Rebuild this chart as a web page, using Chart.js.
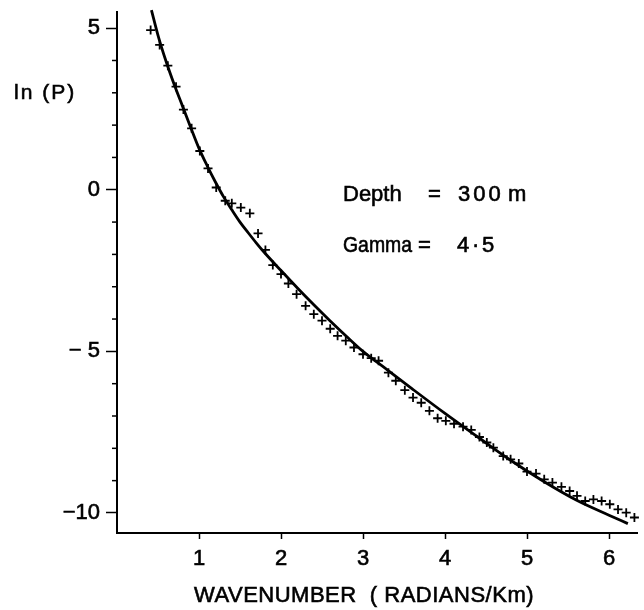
<!DOCTYPE html>
<html lang="en">
<head>
<meta charset="UTF-8">
<title>ln(P) against wavenumber</title>
<script src="https://cdn.jsdelivr.net/npm/chart.js"></script>
<style>
  html, body { margin: 0; padding: 0; background: #fff; }
</style>
</head>
<body>
<canvas id="spectrum" width="644" height="610"></canvas>
<script>
// observed spectrum (+ marks)
const wavenumber = [0.41, 0.52, 0.62, 0.72, 0.81, 0.91, 1.01, 1.11, 1.21, 1.32,
  1.40, 1.51, 1.62, 1.72, 1.81, 1.90, 2.00, 2.09, 2.19, 2.30,
  2.40, 2.50, 2.60, 2.69, 2.79, 2.89, 3.00, 3.10, 3.19, 3.31,
  3.40, 3.51, 3.61, 3.71, 3.81, 3.91, 4.01, 4.11, 4.22, 4.32,
  4.42, 4.51, 4.59, 4.71, 4.80, 4.90, 5.00, 5.11, 5.21, 5.31,
  5.42, 5.52, 5.61, 5.71, 5.81, 5.91, 6.01, 6.11, 6.21, 6.31];
const lnP = [4.94, 4.48, 3.84, 3.19, 2.48, 1.90, 1.20, 0.66, 0.07, -0.34,
  -0.42, -0.55, -0.73, -1.35, -1.86, -2.33, -2.61, -2.90, -3.23, -3.59,
  -3.85, -4.05, -4.30, -4.52, -4.67, -4.88, -5.09, -5.21, -5.29, -5.66,
  -5.91, -6.20, -6.43, -6.59, -6.84, -7.07, -7.15, -7.24, -7.33, -7.43,
  -7.65, -7.82, -7.98, -8.24, -8.34, -8.47, -8.72, -8.78, -8.96, -9.06,
  -9.19, -9.32, -9.47, -9.63, -9.58, -9.63, -9.73, -9.89, -9.99, -10.14];

// fitted curve
const fitK = [0.42, 0.5, 0.6, 0.7, 0.8, 0.9, 1.0, 1.1, 1.2, 1.3, 1.4, 1.5, 1.6, 1.7, 1.8,
  2.0, 2.2, 2.4, 2.6, 2.8, 3.0, 3.3, 3.6, 4.0, 4.4, 4.8, 5.2, 5.6, 6.0, 6.23];
const fitLnP = [5.56, 4.78, 3.96, 3.24, 2.58, 1.92, 1.28, 0.74, 0.24, -0.22, -0.62, -1.0, -1.33, -1.65, -1.95,
  -2.5, -3.04, -3.56, -4.06, -4.54, -5.0, -5.58, -6.16, -6.92, -7.65, -8.37, -9.02, -9.6, -10.07, -10.33];

const xTicks = [1, 2, 3, 4, 5, 6];
const yTicks = [-10, -5, 0, 5];
const yTickText = ['\u221210', '\u2212 5', '0', '5'];

const FONT = '"Liberation Sans", Arial, sans-serif';

function label(ctx, text, x, y, maxWidth) {
  ctx.fillText(text, x, y, maxWidth);
  ctx.strokeText(text, x, y, maxWidth);
}

// minor ticks on the y axis and the free text
const extras = {
  id: 'extras',
  afterDraw(chart) {
    const { ctx, scales: { x, y } } = chart;
    ctx.save();
    ctx.strokeStyle = '#000';
    ctx.lineWidth = 1.5;
    for (let v = Math.ceil(y.min); v <= y.max; v++) {
      if (yTicks.includes(v)) continue;
      const py = y.getPixelForValue(v);
      ctx.beginPath();
      ctx.moveTo(x.left - 5, py);
      ctx.lineTo(x.left, py);
      ctx.stroke();
    }
    ctx.fillStyle = '#000';
    ctx.lineWidth = 0.6;
    ctx.textBaseline = 'alphabetic';
    ctx.font = '21px ' + FONT;
    ctx.letterSpacing = '2px';
    label(ctx, 'ln (P)', 14, 99);
    ctx.letterSpacing = '0px';

    ctx.font = '22px ' + FONT;
    label(ctx, 'Depth', 343, 201, 59);
    label(ctx, '=', 428, 201);
    ctx.letterSpacing = '3px';
    label(ctx, '300', 458, 201);
    ctx.letterSpacing = '0px';
    label(ctx, 'm', 508, 201);
    label(ctx, 'Gamma', 343, 252, 69);
    label(ctx, '=', 418, 252);
    label(ctx, '4', 457, 252);
    label(ctx, '\u00b7', 472, 252);
    label(ctx, '5', 482, 252);

    ctx.textAlign = 'center';
    ctx.letterSpacing = '0.5px';
    label(ctx, 'WAVENUMBER  ( RADIANS/Km)', 364, 602);
    ctx.restore();
  }
};

new Chart(document.getElementById('spectrum'), {
  type: 'scatter',
  data: {
    datasets: [
      {
        label: 'fit',
        data: fitK.map((k, i) => ({ x: k, y: fitLnP[i] })),
        showLine: true,
        borderColor: '#000',
        borderWidth: 2.8,
        pointRadius: 0,
        cubicInterpolationMode: 'monotone',
        clip: false
      },
      {
        label: 'observed',
        data: wavenumber.map((k, i) => ({ x: k, y: lnP[i] })),
        pointStyle: 'cross',
        pointRadius: 4.5,
        borderColor: '#000',
        borderWidth: 1.8,
        clip: false
      }
    ]
  },
  options: {
    responsive: false,
    animation: false,
    layout: { padding: { left: 0, right: 2, top: 12, bottom: 0 } },
    plugins: { legend: { display: false }, tooltip: { enabled: false } },
    scales: {
      x: {
        type: 'linear',
        min: 0,
        max: 6.35,
        afterFit(scale) {
          scale.height = 77;
          scale.paddingLeft = 0;
          scale.paddingRight = 0;
        },
        afterBuildTicks(scale) { scale.ticks = xTicks.map(v => ({ value: v })); },
        border: { color: '#000', width: 2 },
        grid: { drawOnChartArea: false, tickLength: 6, tickColor: '#000', tickWidth: 1.5 },
        ticks: {
          color: '#000', padding: 7, maxRotation: 0,
          font: { family: FONT, size: 22 },
          textStrokeColor: '#000', textStrokeWidth: 0.6
        }
      },
      y: {
        type: 'linear',
        min: -10.62,
        max: 5.5,
        afterFit(scale) {
          scale.width = 117;
          scale.paddingTop = 0;
          scale.paddingBottom = 0;
        },
        afterBuildTicks(scale) { scale.ticks = yTicks.map(v => ({ value: v })); },
        border: { color: '#000', width: 2 },
        grid: { drawOnChartArea: false, tickLength: 11, tickColor: '#000', tickWidth: 1.5 },
        ticks: {
          color: '#000', padding: 6,
          font: { family: FONT, size: 22 },
          textStrokeColor: '#000', textStrokeWidth: 0.6,
          callback: v => yTickText[yTicks.indexOf(v)]
        }
      }
    }
  },
  plugins: [extras]
});
</script>
</body>
</html>
